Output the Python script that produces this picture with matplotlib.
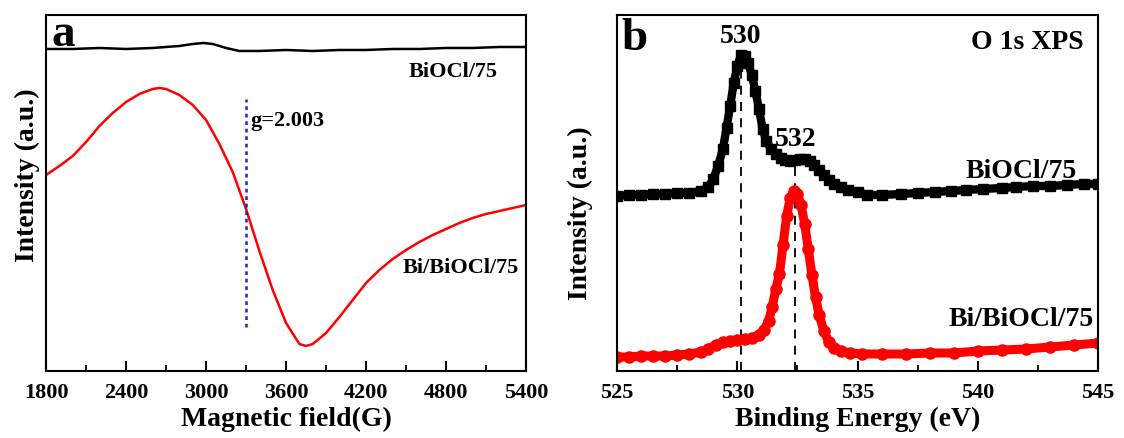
import matplotlib
matplotlib.use("Agg")
import matplotlib.pyplot as plt
from matplotlib.ticker import MultipleLocator

plt.rcParams['font.family'] = ['Liberation Serif', 'DejaVu Serif']
plt.rcParams['font.weight'] = 'bold'

# panel a: EPR spectra (arbitrary intensity units)
field_black = [1800, 2000, 2200, 2400, 2600, 2800, 2900, 2980, 3050, 3150, 3250, 3400,
               3600, 3800, 4000, 4200, 4400, 4600, 4800, 5000, 5200, 5400]
epr_black = [322, 322, 323, 322, 323, 325, 327, 328, 327, 323, 320, 320,
             321, 320, 321, 321, 322, 322, 323, 323, 324, 324]

field_red = [1800, 1900, 2000, 2100, 2200, 2300, 2400, 2500, 2600, 2650, 2700, 2800,
             2900, 3000, 3100, 3200, 3300, 3400, 3500, 3600, 3700, 3750, 3800, 3900,
             4000, 4100, 4200, 4300, 4400, 4500, 4600, 4700, 4800, 4900, 5000, 5100,
             5200, 5300, 5400]
epr_red = [196, 205, 215, 229, 245, 258, 269, 277, 282, 283, 282, 276,
           266, 251, 227, 199, 162, 120, 81, 48, 27, 25, 27, 38,
           54, 71, 88, 101, 112, 121, 129, 136, 142, 148, 153, 157,
           160, 163, 166]

# panel b: O 1s XPS
be_black = [525.0, 525.5, 526.0, 526.5, 527.0, 527.5, 528.0, 528.5, 528.8, 529.0, 529.2,
            529.4, 529.55, 529.7, 529.85, 530.0, 530.15, 530.3, 530.45, 530.6, 530.75,
            530.9, 531.05, 531.2, 531.4, 531.6, 531.8, 532.0, 532.2, 532.4, 532.6, 532.8,
            533.0, 533.2, 533.4, 533.6, 533.8, 534.0, 534.3, 534.6, 535.0, 535.4, 536.0,
            536.8, 537.5, 538.2, 538.9, 539.5, 540.2, 541.0, 541.6, 542.3, 543.0, 543.7,
            544.4, 545.0]
xps_black = [175, 176, 176, 177, 177, 178, 178, 180, 184, 192, 205,
             222, 243, 265, 288, 305, 316, 315, 308, 296, 280,
             262, 242, 230, 222, 217, 213, 211, 210, 211, 212, 212,
             210, 206, 201, 196, 191, 187, 184, 181, 179, 176, 176,
             177, 178, 179, 180, 181, 182, 183, 184, 185, 185, 186,
             187, 187]

be_red = [525.0, 525.5, 526.0, 526.5, 527.0, 527.5, 528.0, 528.5, 528.8, 529.1, 529.4,
          529.7, 530.0, 530.3, 530.6, 530.9, 531.1, 531.3, 531.45, 531.6, 531.75, 531.9,
          532.05, 532.2, 532.35, 532.5, 532.65, 532.8, 532.95, 533.1, 533.25, 533.4,
          533.6, 533.8, 534.0, 534.3, 534.7, 535.2, 536.0, 537.0, 538.0, 539.0, 540.0,
          541.0, 542.0, 543.0, 544.0, 545.0]
xps_red = [14, 14, 15, 15, 15, 16, 17, 19, 22, 26, 29,
           30, 31, 32, 33, 36, 41, 50, 64, 82, 97, 126,
           155, 173, 180, 177, 166, 147, 122, 96, 74, 56,
           40, 29, 23, 20, 18, 17, 17, 17, 18, 18, 20,
           21, 22, 24, 26, 28]

fig = plt.figure(figsize=(11.24, 4.39), dpi=100)
ax1 = fig.add_axes([0.041, 0.1526, 0.427, 0.811])
ax2 = fig.add_axes([0.549, 0.1526, 0.428, 0.811])

# --- a ---
ax1.plot(field_black, epr_black, color='black', lw=1.8)
ax1.plot(field_red, epr_red, color='red', lw=1.8)
ax1.plot([3300, 3300], [44, 272], color='#2020dd', lw=1.8, ls=(0, (1.5, 1.5)))
ax1.set_xlim(1800, 5400)
ax1.set_ylim(0, 356)
ax1.xaxis.set_major_locator(MultipleLocator(600))
ax1.xaxis.set_minor_locator(MultipleLocator(300))
ax1.set_xlabel('Magnetic field(G)', fontsize=20, fontweight='bold', labelpad=3)
ax1.set_ylabel('Intensity (a.u.)', fontsize=20, fontweight='bold')
ax1.yaxis.set_label_coords(-0.013, 0.553)
ax1.text(1840, 358, 'a', fontsize=34, fontweight='bold', va='top', ha='left')
ax1.text(5190, 300, 'BiOCl/75', fontsize=16, fontweight='bold', ha='right', va='center')
ax1.text(5350, 104, 'Bi/BiOCl/75', fontsize=16, fontweight='bold', ha='right', va='center')
ax1.text(3330, 251, 'g=2.003', fontsize=16, fontweight='bold', ha='left', va='center')

# --- b ---
ax2.plot([530.15, 530.15], [0, 317], color='black', lw=1.3, ls=(0, (5, 4)))
ax2.plot([532.4, 532.4], [0, 204], color='black', lw=1.3, ls=(0, (5, 4)))
ax2.plot(be_black, xps_black, color='black', lw=6, marker='s', ms=6.5)
ax2.plot(be_red, xps_red, color='red', lw=6.5, marker='o', ms=8)
ax2.set_xlim(525, 545)
ax2.set_ylim(0, 356)
ax2.xaxis.set_major_locator(MultipleLocator(5))
ax2.xaxis.set_minor_locator(MultipleLocator(2.5))
ax2.set_xlabel('Binding Energy (eV)', fontsize=20, fontweight='bold', labelpad=3)
ax2.set_ylabel('Intensity (a.u.)', fontsize=20, fontweight='bold')
ax2.yaxis.set_label_coords(-0.05, 0.447)
ax2.text(525.2, 354, 'b', fontsize=34, fontweight='bold', va='top', ha='left')
ax2.text(530.15, 335, '530', fontsize=20, fontweight='bold', ha='center', va='center')
ax2.text(532.44, 232, '532', fontsize=20, fontweight='bold', ha='center', va='center')
ax2.text(544.4, 329, 'O 1s XPS', fontsize=20, fontweight='bold', ha='right', va='center')
ax2.text(544.1, 200, 'BiOCl/75', fontsize=20, fontweight='bold', ha='right', va='center')
ax2.text(544.8, 53, 'Bi/BiOCl/75', fontsize=20, fontweight='bold', ha='right', va='center')

for ax in (ax1, ax2):
    ax.set_yticks([])
    ax.tick_params(axis='x', which='major', direction='in', length=7, width=1.5,
                   labelsize=16, pad=8, top=False)
    ax.tick_params(axis='x', which='minor', direction='in', length=4, width=1.3, top=False)
    for lab in ax.get_xticklabels():
        lab.set_fontweight('bold')
    for sp in ax.spines.values():
        sp.set_linewidth(1.5)

fig.savefig('out.png', dpi=100)
